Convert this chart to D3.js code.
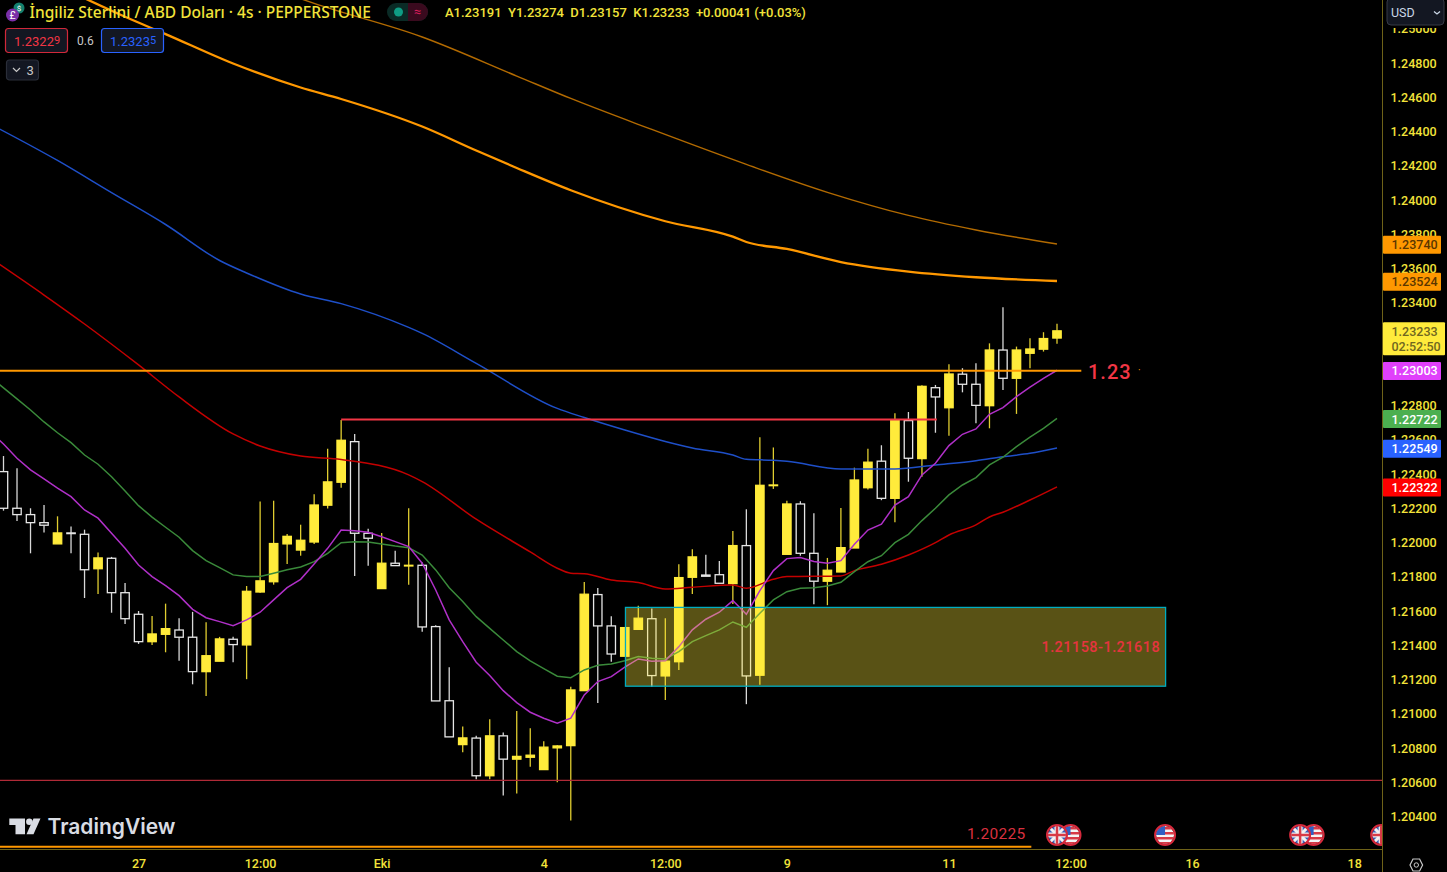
<!DOCTYPE html>
<html>
<head>
<meta charset="utf-8">
<style>
  html, body { margin: 0; padding: 0; background: #000; overflow: hidden; }
  svg { display: block; }
  text { font-family: Roboto, "Noto Sans", sans-serif; }
  .y-axis text, .x-axis text { fill: #f2e33a; font-size: 12.5px; font-weight: 500; font-family: Roboto, sans-serif; }
</style>
</head>
<body>
<svg id="chart"></svg>
<script src="https://cdn.jsdelivr.net/npm/d3@7"></script>
<script>
// candles, bar 0 is the first one on screen
const opens = [1.22411,1.22197,1.22160,1.22113,1.21989,1.22053,1.22045,1.21844,1.21905,1.21704,
  1.21578,1.21418,1.21461,1.21486,1.21444,1.21243,1.21304,1.21432,1.21399,1.21708,
  1.21768,1.21989,1.21953,1.22000,1.22215,1.22349,1.22586,1.22051,1.21728,1.21876,
  1.21860,1.21864,1.21506,1.21073,1.20817,1.20855,1.20635,1.20868,1.20732,1.20743,
  1.20671,1.20798,1.20811,1.21132,1.21693,1.21510,1.21333,1.21490,1.21552,1.21218,
  1.21301,1.21794,1.21807,1.21809,1.21757,1.21979,1.21222,1.22329,1.21928,1.22222,
  1.21934,1.21771,1.21825,1.21965,1.22317,1.22472,1.22255,1.22709,1.22487,1.22901,
  1.22784,1.22980,1.22921,1.22796,1.23121,1.22956,1.23102,1.23126,1.23191];
const closes = [1.22197,1.22160,1.22113,1.22098,1.22053,1.22049,1.21838,1.21907,1.21704,1.21552,
  1.21418,1.21463,1.21494,1.21444,1.21243,1.21336,1.21434,1.21401,1.21712,1.21773,
  1.21991,1.22033,1.22010,1.22216,1.22351,1.22594,1.22051,1.22022,1.21876,1.21862,
  1.21864,1.21504,1.21072,1.20862,1.20856,1.20635,1.20868,1.20732,1.20748,1.20755,
  1.20802,1.20809,1.21136,1.21695,1.21510,1.21346,1.21500,1.21555,1.21220,1.21304,
  1.21792,1.21913,1.21800,1.21759,1.21979,1.21218,1.22331,1.22333,1.22222,1.21934,
  1.21771,1.21835,1.21967,1.22362,1.22466,1.22255,1.22711,1.22489,1.22909,1.22847,
  1.22981,1.22921,1.22798,1.23121,1.22956,1.23121,1.23127,1.23188,1.23233];
const highs = [1.22502,1.22431,1.22197,1.22216,1.22150,1.22090,1.22072,1.21938,1.21913,1.21761,
  1.21597,1.21568,1.21640,1.21555,1.21592,1.21531,1.21446,1.21446,1.21743,1.22236,
  1.22241,1.22047,1.22101,1.22279,1.22545,1.22713,1.22631,1.22078,1.22053,1.21949,
  1.22197,1.21880,1.21514,1.21268,1.20922,1.20868,1.20965,1.20887,1.21013,1.20912,
  1.20837,1.20813,1.21155,1.21767,1.21732,1.21566,1.21502,1.21628,1.21611,1.21555,
  1.21870,1.21958,1.21926,1.21889,1.22064,1.22191,1.22612,1.22552,1.22241,1.22238,
  1.22168,1.21907,1.22199,1.22434,1.22545,1.22565,1.22752,1.22759,1.22915,1.22917,
  1.23038,1.23015,1.23044,1.23160,1.23371,1.23141,1.23190,1.23225,1.23274];
const lows = [1.22183,1.22123,1.21934,1.22055,1.21989,1.21934,1.21673,1.21697,1.21587,1.21521,
  1.21405,1.21399,1.21356,1.21307,1.21169,1.21101,1.21304,1.21298,1.21199,1.21703,
  1.21751,1.21872,1.21920,1.21989,1.22195,1.22317,1.21802,1.21862,1.21728,1.21862,
  1.21751,1.21476,1.21072,1.20862,1.20772,1.20614,1.20614,1.20519,1.20532,1.20688,
  1.20671,1.20597,1.20373,1.21132,1.21060,1.21301,1.21333,1.21490,1.21154,1.21078,
  1.21252,1.21697,1.21800,1.21759,1.21638,1.21053,1.21167,1.22310,1.21928,1.21920,
  1.21636,1.21631,1.21825,1.21965,1.22306,1.22244,1.22115,1.22352,1.22381,1.22638,
  1.22621,1.22874,1.22693,1.22664,1.22888,1.22748,1.23015,1.23112,1.23157];

// fast averages have one value per bar, starting at bar -1
const magentaValues = [1.22648,1.22572,1.22489,1.22421,1.22368,1.22314,1.22265,1.22187,1.22139,1.22051,
  1.21963,1.21866,1.21798,1.21745,1.21687,1.21607,1.21558,1.21535,1.21511,1.21545,
  1.21590,1.21662,1.21733,1.21782,1.21872,1.21963,1.22070,1.22066,1.22057,1.22031,
  1.22002,1.21973,1.21876,1.21720,1.21545,1.21418,1.21298,1.21220,1.21132,1.21062,
  1.21006,1.20971,1.20942,1.20971,1.21107,1.21185,1.21214,1.21269,1.21317,1.21304,
  1.21306,1.21389,1.21487,1.21549,1.21590,1.21658,1.21578,1.21716,1.21833,1.21903,
  1.21909,1.21886,1.21876,1.21891,1.21987,1.22070,1.22104,1.22216,1.22265,1.22392,
  1.22460,1.22563,1.22629,1.22660,1.22746,1.22785,1.22849,1.22904,1.22956,1.23003];
const greenValues = [1.22964,1.22900,1.22836,1.22771,1.22701,1.22638,1.22580,1.22508,1.22454,1.22381,
  1.22298,1.22212,1.22145,1.22086,1.22028,1.21950,1.21891,1.21850,1.21808,1.21798,
  1.21798,1.21818,1.21838,1.21854,1.21885,1.21934,1.21996,1.22002,1.22000,1.21989,
  1.21977,1.21967,1.21924,1.21837,1.21733,1.21652,1.21564,1.21496,1.21428,1.21360,
  1.21306,1.21261,1.21216,1.21208,1.21253,1.21280,1.21288,1.21307,1.21331,1.21321,
  1.21317,1.21360,1.21418,1.21453,1.21487,1.21533,1.21502,1.21584,1.21662,1.21710,
  1.21730,1.21733,1.21743,1.21765,1.21827,1.21885,1.21920,1.21996,1.22045,1.22125,
  1.22197,1.22275,1.22333,1.22376,1.22450,1.22495,1.22557,1.22612,1.22664,1.22722];

// slow averages, read at fewer bars
const redBars = [-1,3,6,10,13,17,19,22,25,30,31,35,39,41,42,43,45,47,49,51,54,55,57,58,62,63,65,67,69,70,72,73,74,76,78];
const redValues = [1.23659,1.23442,1.23273,1.23034,1.22847,1.22631,1.22561,1.22502,1.22482,1.22392,1.22353,1.22133,
  1.21942,1.21847,1.21818,1.21815,1.21778,1.21763,1.21726,1.21736,1.21749,1.21730,1.21782,1.21798,1.21802,1.21833,
  1.21870,1.21924,1.21996,1.22041,1.22100,1.22146,1.22174,1.22245,1.22322];
const blueBars = [-1,4,8,12,16,18,22,25,30,31,35,41,43,46,49,51,54,55,57,58,62,66,69,72,74,76,78];
const blueValues = [1.24441,1.24228,1.24040,1.23854,1.23644,1.23571,1.23448,1.23392,1.23253,1.23218,1.23043,1.22780,
  1.22727,1.22654,1.22587,1.22549,1.22508,1.22483,1.22477,1.22471,1.22426,1.22426,1.22450,1.22475,1.22498,1.22518,1.22549];
const orangeBars = [5,9,12,17,22,25,31,35,38,42,49,54,55,58,62,67,72,78];
const orangeValues = [1.25212,1.25067,1.24966,1.24794,1.24654,1.24587,1.24426,1.24286,1.24184,1.24054,1.23873,1.23783,
  1.23752,1.23711,1.23635,1.23579,1.23546,1.23524];
const thinOrangeBars = [21,23,31,38,42,48,55,61,67,72,78];
const thinOrangeValues = [1.25200,1.25145,1.24949,1.24721,1.24590,1.24409,1.24205,1.24042,1.23907,1.23822,1.23740];

// axes, 1.23000 and 1.23200 sit fully behind the price tags
const yTickValues = [1.204,1.206,1.208,1.21,1.212,1.214,1.216,1.218,1.22,1.222,1.224,1.226,1.228,
  1.234,1.236,1.238,1.24,1.242,1.244,1.246,1.248,1.25];
const xTickBars = [10, 19, 28, 40, 49, 58, 70, 79, 88, 100];
const xTickLabels = ["27", "12:00", "Eki", "4", "12:00", "9", "11", "12:00", "16", "18"];

// drawings
const supportPrice = 1.23, resistancePrice = 1.22716, floorPrice = 1.20608, lowPrice = 1.20225;
const zoneTop = 1.21618, zoneBottom = 1.21158;
const eventBars = [79, 78, 86, 97, 96, 102];
const eventKinds = ["us", "uk", "us", "us", "uk", "uk"];

const width = 1447, height = 872;
const axisX = 1382.5, axisY = 849.5;

const svg = d3.select("#chart").attr("width", width).attr("height", height);

const x = d3.scaleLinear().domain([0, 78]).range([3.5, 1057]);
const y = d3.scaleLinear().domain([1.204, 1.248]).range([816, 62.5]);

svg.append("defs").append("clipPath").attr("id", "plot")
  .append("rect").attr("width", axisX).attr("height", axisY);

const plot = svg.append("g").attr("clip-path", "url(#plot)");

// ==== Candles ====
const bars = d3.range(opens.length);
const YELLOW = "#ffeb3b";
const candle = plot.selectAll(".candle").data(bars).enter().append("g").attr("class", "candle");

candle.append("line")
  .attr("x1", i => x(i)).attr("x2", i => x(i))
  .attr("y1", i => y(highs[i]))
  .attr("y2", i => y(Math.max(opens[i], closes[i])))
  .attr("stroke", i => closes[i] > opens[i] ? "#e0cd30" : "#d8d8d8")
  .attr("stroke-width", 1.3);

candle.append("line")
  .attr("x1", i => x(i)).attr("x2", i => x(i))
  .attr("y1", i => y(Math.min(opens[i], closes[i])))
  .attr("y2", i => y(lows[i]))
  .attr("stroke", i => closes[i] > opens[i] ? "#e0cd30" : "#d8d8d8")
  .attr("stroke-width", 1.3);

candle.append("rect")
  .attr("x", i => x(i) - 4.2)
  .attr("width", 8.4)
  .attr("y", i => y(Math.max(opens[i], closes[i])))
  .attr("height", i => Math.abs(y(opens[i]) - y(closes[i])))
  .attr("fill", i => closes[i] > opens[i] ? YELLOW : "none")
  .attr("stroke", i => closes[i] > opens[i] ? YELLOW : "#e6e6e6")
  .attr("stroke-width", 1.3);

// ==== Moving averages ====
const avgLine = d3.line().x(d => x(d[0])).y(d => y(d[1]));
const slowLine = d3.line().x(d => x(d[0])).y(d => y(d[1])).curve(d3.curveMonotoneX);
const drawAvg = (gen, barList, values, color, w) => {
  plot.append("path")
    .attr("d", gen(barList.map((b, i) => [b, values[i]])))
    .attr("fill", "none")
    .attr("stroke", color)
    .attr("stroke-width", w);
};
const everyBar = d3.range(-1, 79);
drawAvg(slowLine, thinOrangeBars, thinOrangeValues, "#b26a00", 1.4);
drawAvg(slowLine, orangeBars, orangeValues, "#ff9800", 2.3);
drawAvg(slowLine, blueBars, blueValues, "#1e4fc8", 1.5);
drawAvg(slowLine, redBars, redValues, "#c40000", 1.5);
drawAvg(avgLine, everyBar, greenValues, "#3a8a3a", 1.5);
drawAvg(avgLine, everyBar, magentaValues, "#b030c8", 1.5);

// ==== Horizontal drawings ====
plot.append("line")
  .attr("x1", 0).attr("x2", axisX)
  .attr("y1", y(floorPrice)).attr("y2", y(floorPrice))
  .attr("stroke", "#b02a37").attr("stroke-width", 1.2);
plot.append("line")
  .attr("x1", x(25)).attr("x2", x(69.1))
  .attr("y1", y(resistancePrice)).attr("y2", y(resistancePrice))
  .attr("stroke", "#f23645").attr("stroke-width", 2);
plot.append("line")
  .attr("x1", 0).attr("x2", x(79.8))
  .attr("y1", y(supportPrice)).attr("y2", y(supportPrice))
  .attr("stroke", "#ff9800").attr("stroke-width", 2);
plot.append("line")
  .attr("x1", 0).attr("x2", x(76.1))
  .attr("y1", y(lowPrice) + 0.8).attr("y2", y(lowPrice) + 0.8)
  .attr("stroke", "#ff9800").attr("stroke-width", 2);

plot.append("text").attr("x", 1088).attr("y", y(supportPrice) + 8)
  .attr("fill", "#f23645").attr("font-size", 20).attr("font-weight", 500)
  .attr("letter-spacing", 1).text("1.23");
plot.append("text").attr("x", 1138).attr("y", y(supportPrice) + 3)
  .attr("fill", "#ff9800").attr("font-size", 10).text("·");
plot.append("text").attr("x", 967).attr("y", 839)
  .attr("fill", "#d9303f").attr("font-size", 15.5).attr("letter-spacing", 0.3).text("1.20225");

// ==== Demand zone ====
plot.append("rect")
  .attr("x", x(46.05)).attr("width", x(86.04) - x(46.05))
  .attr("y", y(zoneTop)).attr("height", y(zoneBottom) - y(zoneTop))
  .attr("fill", "#ffeb3b").attr("fill-opacity", 0.35)
  .attr("stroke", "#00acc1").attr("stroke-width", 1.3);
plot.append("text").attr("x", x(86.04) - 5.5).attr("y", y((zoneTop + zoneBottom) / 2) + 5.5)
  .attr("text-anchor", "end")
  .attr("fill", "#e5343f").attr("font-size", 14.5).attr("font-weight", 500)
  .attr("letter-spacing", 0.45).text("1.21158-1.21618");

// ==== Economic events ====
const defs = svg.select("defs");
const events = plot.selectAll(".event").data(eventBars).enter().append("g")
  .attr("class", "event")
  .attr("transform", b => `translate(${x(b)},835)`);
defs.append("clipPath").attr("id", "flag").append("circle").attr("r", 9);

events.each(function (b, i) {
  const g = d3.select(this);
  const f = g.append("g").attr("clip-path", "url(#flag)");
  if (eventKinds[i] === "us") {
    f.append("rect").attr("x", -10).attr("y", -10).attr("width", 20).attr("height", 20).attr("fill", "#f4f4f4");
    d3.range(-8, 10, 5).forEach(s => {
      f.append("rect").attr("x", -10).attr("y", s).attr("width", 20).attr("height", 2.5).attr("fill", "#d83a46");
    });
    f.append("rect").attr("x", -10).attr("y", -10).attr("width", 10).attr("height", 10).attr("fill", "#2f5fc4");
  } else {
    f.append("rect").attr("x", -10).attr("y", -10).attr("width", 20).attr("height", 20).attr("fill", "#3a5fb8");
    f.append("path").attr("d", "M-9,-9L9,9M-9,9L9,-9").attr("stroke", "#f2f2f2").attr("stroke-width", 3);
    f.append("path").attr("d", "M-9,0H9M0,-9V9").attr("stroke", "#f2f2f2").attr("stroke-width", 5);
    f.append("path").attr("d", "M-9,0H9M0,-9V9").attr("stroke", "#d83a46").attr("stroke-width", 2.5);
  }
  g.append("circle").attr("r", 10).attr("fill", "none").attr("stroke", "#d5293c").attr("stroke-width", 2);
});

// ==== Axes ====
const yAxis = d3.axisRight(y).tickValues(yTickValues).tickFormat(d3.format(".5f")).tickSize(0).tickPadding(8);
const yAxisGroup = svg.append("g").attr("class", "y-axis")
  .attr("transform", `translate(${axisX},0.7)`)
  .call(yAxis);
yAxisGroup.select(".domain").remove();

const xAxis = d3.axisBottom(x).tickValues(xTickBars).tickFormat((d, i) => xTickLabels[i]).tickSize(0).tickPadding(10);
const xAxisGroup = svg.append("g").attr("class", "x-axis")
  .attr("transform", `translate(0,${axisY})`)
  .call(xAxis);
xAxisGroup.select(".domain").remove();

svg.append("line").attr("x1", 0).attr("x2", axisX).attr("y1", axisY).attr("y2", axisY)
  .attr("stroke", "#6e6218").attr("stroke-width", 1);
svg.append("line").attr("x1", axisX).attr("x2", axisX).attr("y1", 0).attr("y2", height)
  .attr("stroke", "#6e6218").attr("stroke-width", 1);

// price tags, read from the series ends
const tagData = [
  { price: thinOrangeValues[thinOrangeValues.length - 1], bg: "#ff9800", fg: "#5a3600" },
  { price: orangeValues[orangeValues.length - 1], bg: "#ff9800", fg: "#5a3600" },
  { price: magentaValues[magentaValues.length - 1], bg: "#e040fb", fg: "#fff" },
  { price: greenValues[greenValues.length - 1], bg: "#4caf50", fg: "#fff" },
  { price: blueValues[blueValues.length - 1], bg: "#2962ff", fg: "#fff" },
  { price: redValues[redValues.length - 1], bg: "#ff0000", fg: "#fff" }
];
const tags = svg.selectAll(".tag").data(tagData).enter().append("g").attr("class", "tag")
  .attr("transform", d => `translate(${axisX + 0.5},${y(d.price) + 0.7})`);
tags.append("rect").attr("y", -9).attr("width", 58).attr("height", 18).attr("rx", 1).attr("fill", d => d.bg);
tags.append("text").attr("x", 8.5).attr("y", 4.5).attr("fill", d => d.fg)
  .attr("font-size", 12.5).attr("font-weight", 500).text(d => d3.format(".5f")(d.price));

const lastClose = closes[closes.length - 1];
const lastTag = svg.append("g").attr("transform", `translate(${axisX + 0.5},${y(lastClose)})`);
lastTag.append("rect").attr("y", -8.5).attr("width", 62).attr("height", 33).attr("rx", 1).attr("fill", YELLOW);
lastTag.append("text").attr("x", 8.5).attr("y", 5).attr("fill", "#6f6620")
  .attr("font-size", 12.5).attr("font-weight", 500).text(d3.format(".5f")(lastClose));
lastTag.append("text").attr("x", 8.5).attr("y", 20).attr("fill", "#6f6620")
  .attr("font-size", 12.5).attr("font-weight", 500).text("02:52:50");

// currency box, masks the top of the 1.25000 tick
svg.append("rect").attr("x", axisX + 1).attr("y", 0).attr("width", 65).attr("height", 28).attr("fill", "#000");
svg.append("rect").attr("x", 1387).attr("y", -2).attr("width", 57).attr("height", 27).attr("rx", 4)
  .attr("fill", "#131722").attr("stroke", "#363a45");
svg.append("text").attr("x", 1391).attr("y", 16.5).attr("fill", "#c9d6e6").attr("font-size", 12.5).text("USD");
svg.append("path").attr("d", "M1434,11.5l3,2.5l3,-2.5").attr("fill", "none").attr("stroke", "#c9d6e6").attr("stroke-width", 1.3);

// settings hexagon
svg.append("path").attr("d", "M1410,865l3,-6h6.6l3,6l-3,6h-6.6z")
  .attr("fill", "none").attr("stroke", "#c8c8c8").attr("stroke-width", 1.2);
svg.append("circle").attr("cx", 1416.3).attr("cy", 865).attr("r", 2.2).attr("fill", "none").attr("stroke", "#c8c8c8");

// ==== Header ====
const head = svg.append("g");
head.append("circle").attr("cx", 19).attr("cy", 8).attr("r", 5.5).attr("fill", "#14806e");
head.append("text").attr("x", 19).attr("y", 11).attr("text-anchor", "middle").attr("fill", "#fff").attr("font-size", 8).text("$");
head.append("circle").attr("cx", 12.5).attr("cy", 15).attr("r", 6.5).attr("fill", "#7a2fa8");
head.append("text").attr("x", 12.5).attr("y", 19).attr("text-anchor", "middle").attr("fill", "#fff").attr("font-size", 10.5).text("£");

head.append("text").attr("x", 29.5).attr("y", 17.5).attr("fill", "#f2e33a")
  .attr("font-size", 15.5).attr("font-weight", 500).style("font-family", "'Noto Sans', sans-serif")
  .text("İngiliz Sterlini / ABD Doları · 4s · PEPPERSTONE");

head.append("rect").attr("x", 387).attr("y", 3).attr("width", 41).attr("height", 18).attr("rx", 9).attr("fill", "#0a2b26");
head.append("path").attr("d", "M408,3h11a9,9 0 0 1 0,18h-11z").attr("fill", "#3a0a1e");
head.append("circle").attr("cx", 398.5).attr("cy", 12).attr("r", 4.5).attr("fill", "#0f9d84");
head.append("text").attr("x", 417.5).attr("y", 16).attr("text-anchor", "middle").attr("fill", "#d81e5b").attr("font-size", 13).text("≈");

head.append("text").attr("x", 445).attr("y", 16.5).attr("fill", "#f2e33a")
  .attr("font-size", 13).attr("font-weight", 500)
  .attr("xml:space", "preserve")
  .text("A1.23191  Y1.23274  D1.23157  K1.23233  +0.00041 (+0.03%)");

const box = (bx, by, w, h, stroke) => head.append("rect")
  .attr("x", bx).attr("y", by).attr("width", w).attr("height", h).attr("rx", 3)
  .attr("fill", "#131722").attr("stroke", stroke).attr("stroke-width", 1.2);
box(5.5, 28.5, 62, 24, "#d1283a");
box(101.5, 28.5, 62, 24, "#2962ff");
box(6.5, 60, 32, 20, "#2a2e39");

const sub = (tx, main, small, color) => {
  const t = head.append("text").attr("x", tx).attr("y", 45.5).attr("fill", color).attr("font-size", 13);
  t.append("tspan").text(main);
  t.append("tspan").attr("dy", -2).attr("font-size", 11).text(small);
};
sub(14, "1.2322", "9", "#f23645");
sub(110, "1.2323", "5", "#2962ff");
head.append("text").attr("x", 77).attr("y", 45).attr("fill", "#c8c8c8").attr("font-size", 12).text("0.6");
head.append("path").attr("d", "M13,68l3.5,3.5l3.5,-3.5").attr("fill", "none").attr("stroke", "#c8c8c8").attr("stroke-width", 1.2);
head.append("text").attr("x", 26.5).attr("y", 74.5).attr("fill", "#c8c8c8").attr("font-size", 13).text("3");

// ==== TradingView mark ====
const logo = svg.append("g").attr("fill", "#d9dce3");
logo.append("path").attr("d", "M9.3,818.5H25V834.3H15.5V825H9.3z");
logo.append("circle").attr("cx", 29.3).attr("cy", 821.7).attr("r", 3.2);
logo.append("path").attr("d", "M33.5,818.5H40.5L33.5,834.3H26.5z");
logo.append("text").attr("x", 47.5).attr("y", 834).attr("font-size", 21).attr("font-weight", 600)
  .style("font-family", "Inter, sans-serif").text("TradingView");
</script>
</body>
</html>
